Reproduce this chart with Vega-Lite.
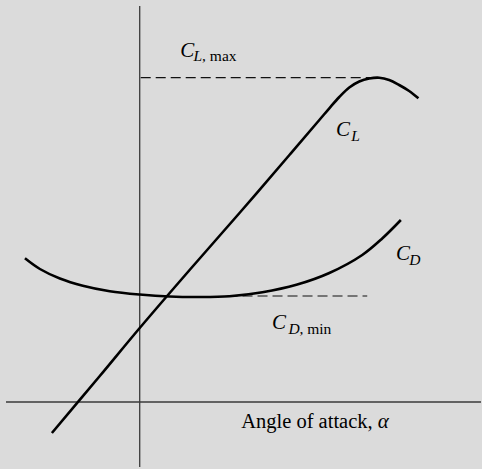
{
  "$schema": "https://vega.github.io/schema/vega-lite/v6.json",
  "width": 482,
  "height": 469,
  "autosize": {"type": "fit", "contains": "padding"},
  "padding": 0,
  "background": "#dbdbdb",
  "config": {"view": {"stroke": null}},
  "datasets": {
    "curves": [
      {"curve": "CL", "alpha": -8.8, "coef": -0.31},
      {"curve": "CL", "alpha": -4, "coef": 0.26},
      {"curve": "CL", "alpha": 0, "coef": 0.74},
      {"curve": "CL", "alpha": 5, "coef": 1.32},
      {"curve": "CL", "alpha": 10, "coef": 1.89},
      {"curve": "CL", "alpha": 15, "coef": 2.47},
      {"curve": "CL", "alpha": 18, "coef": 2.82},
      {"curve": "CL", "alpha": 19, "coef": 2.937},
      {"curve": "CL", "alpha": 20, "coef": 3.05},
      {"curve": "CL", "alpha": 21, "coef": 3.145},
      {"curve": "CL", "alpha": 22, "coef": 3.205},
      {"curve": "CL", "alpha": 23, "coef": 3.235},
      {"curve": "CL", "alpha": 24, "coef": 3.243},
      {"curve": "CL", "alpha": 25, "coef": 3.22},
      {"curve": "CL", "alpha": 26, "coef": 3.17},
      {"curve": "CL", "alpha": 27, "coef": 3.11},
      {"curve": "CL", "alpha": 27.93, "coef": 3.037},
      {"curve": "CD", "alpha": -11.5, "coef": 1.437},
      {"curve": "CD", "alpha": -10, "coef": 1.33},
      {"curve": "CD", "alpha": -8, "coef": 1.235},
      {"curve": "CD", "alpha": -5.7, "coef": 1.163},
      {"curve": "CD", "alpha": -3, "coef": 1.108},
      {"curve": "CD", "alpha": 0, "coef": 1.075},
      {"curve": "CD", "alpha": 3, "coef": 1.055},
      {"curve": "CD", "alpha": 6, "coef": 1.05},
      {"curve": "CD", "alpha": 9, "coef": 1.058},
      {"curve": "CD", "alpha": 12.3, "coef": 1.098},
      {"curve": "CD", "alpha": 15.7, "coef": 1.172},
      {"curve": "CD", "alpha": 19, "coef": 1.29},
      {"curve": "CD", "alpha": 22.3, "coef": 1.47},
      {"curve": "CD", "alpha": 24.3, "coef": 1.635},
      {"curve": "CD", "alpha": 26.17, "coef": 1.82}
    ],
    "axes": [
      {"a1": 0, "a2": 0, "c1": -0.65, "c2": 3.96},
      {"a1": -13.4, "a2": 34.2, "c1": 0, "c2": 0}
    ],
    "refs": [
      {"a1": 0.1, "a2": 24, "c": 3.243},
      {"a1": 8.8, "a2": 22.8, "c": 1.06}
    ],
    "bigItalic": [
      {"alpha": 4.07, "coef": 3.45, "t": "C"},
      {"alpha": 19.67, "coef": 2.66, "t": "C"},
      {"alpha": 25.67, "coef": 1.42, "t": "C"},
      {"alpha": 13.25, "coef": 0.73, "t": "C"},
      {"alpha": 23.85, "coef": -0.26, "t": "α"}
    ],
    "subItalic": [
      {"alpha": 5.4, "coef": 3.41, "t": "L"},
      {"alpha": 21.2, "coef": 2.615, "t": "L"},
      {"alpha": 27.0, "coef": 1.37, "t": "D"},
      {"alpha": 14.9, "coef": 0.68, "t": "D"}
    ],
    "subPlain": [
      {"alpha": 6.25, "coef": 3.41, "t": ", max"},
      {"alpha": 16.0, "coef": 0.68, "t": ", min"}
    ],
    "bigPlain": [
      {"alpha": 10.17, "coef": -0.26, "t": "Angle of attack,"}
    ]
  },
  "layer": [
    {
      "data": {"name": "axes"},
      "mark": {"type": "rule", "color": "#3a3a3a", "strokeWidth": 1.3},
      "encoding": {
        "x": {"field": "a1", "type": "quantitative", "scale": {"domain": [-14, 34.2], "nice": false, "zero": false}, "axis": null},
        "x2": {"field": "a2"},
        "y": {"field": "c1", "type": "quantitative", "scale": {"domain": [-0.67, 4.02], "nice": false, "zero": false}, "axis": null},
        "y2": {"field": "c2"}
      }
    },
    {
      "data": {"name": "refs"},
      "mark": {"type": "rule", "color": "#111111", "strokeWidth": 1.2, "strokeDash": [10, 5]},
      "encoding": {
        "x": {"field": "a1", "type": "quantitative", "scale": {"domain": [-14, 34.2], "nice": false, "zero": false}, "axis": null},
        "x2": {"field": "a2"},
        "y": {"field": "c", "type": "quantitative", "scale": {"domain": [-0.67, 4.02], "nice": false, "zero": false}, "axis": null}
      }
    },
    {
      "data": {"name": "curves"},
      "mark": {"type": "line", "color": "#000000", "strokeWidth": 2.6, "interpolate": "catmull-rom"},
      "encoding": {
        "x": {"field": "alpha", "type": "quantitative", "scale": {"domain": [-14, 34.2], "nice": false, "zero": false}, "axis": null},
        "y": {"field": "coef", "type": "quantitative", "scale": {"domain": [-0.67, 4.02], "nice": false, "zero": false}, "axis": null},
        "detail": {"field": "curve"}
      }
    },
    {
      "data": {"name": "bigItalic"},
      "mark": {"type": "text", "font": "Liberation Serif", "fontStyle": "italic", "fontSize": 21, "align": "left", "baseline": "alphabetic", "color": "#000000"},
      "encoding": {
        "x": {"field": "alpha", "type": "quantitative", "scale": {"domain": [-14, 34.2], "nice": false, "zero": false}, "axis": null},
        "y": {"field": "coef", "type": "quantitative", "scale": {"domain": [-0.67, 4.02], "nice": false, "zero": false}, "axis": null},
        "text": {"field": "t"}
      }
    },
    {
      "data": {"name": "subItalic"},
      "mark": {"type": "text", "font": "Liberation Serif", "fontStyle": "italic", "fontSize": 15.5, "align": "left", "baseline": "alphabetic", "color": "#000000"},
      "encoding": {
        "x": {"field": "alpha", "type": "quantitative", "scale": {"domain": [-14, 34.2], "nice": false, "zero": false}, "axis": null},
        "y": {"field": "coef", "type": "quantitative", "scale": {"domain": [-0.67, 4.02], "nice": false, "zero": false}, "axis": null},
        "text": {"field": "t"}
      }
    },
    {
      "data": {"name": "subPlain"},
      "mark": {"type": "text", "font": "Liberation Serif", "fontSize": 15.5, "align": "left", "baseline": "alphabetic", "color": "#000000"},
      "encoding": {
        "x": {"field": "alpha", "type": "quantitative", "scale": {"domain": [-14, 34.2], "nice": false, "zero": false}, "axis": null},
        "y": {"field": "coef", "type": "quantitative", "scale": {"domain": [-0.67, 4.02], "nice": false, "zero": false}, "axis": null},
        "text": {"field": "t"}
      }
    },
    {
      "data": {"name": "bigPlain"},
      "mark": {"type": "text", "font": "Liberation Serif", "fontSize": 20.5, "align": "left", "baseline": "alphabetic", "color": "#000000"},
      "encoding": {
        "x": {"field": "alpha", "type": "quantitative", "scale": {"domain": [-14, 34.2], "nice": false, "zero": false}, "axis": null},
        "y": {"field": "coef", "type": "quantitative", "scale": {"domain": [-0.67, 4.02], "nice": false, "zero": false}, "axis": null},
        "text": {"field": "t"}
      }
    }
  ]
}
